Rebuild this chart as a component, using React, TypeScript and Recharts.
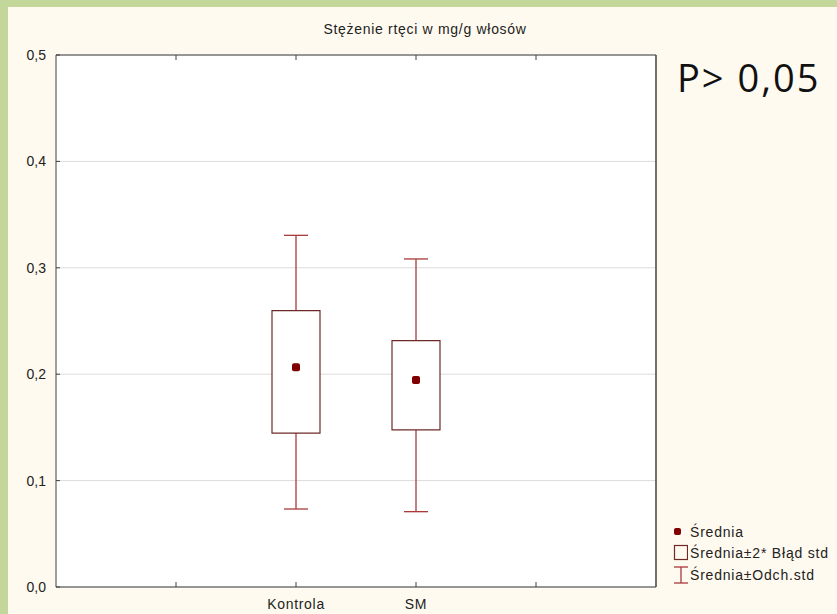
import { ComposedChart, Bar, Scatter, ErrorBar, XAxis, YAxis, CartesianGrid } from 'recharts';

// group positions on a 0..5 numeric axis, ticks at every slot boundary
const groups = ['Kontrola', 'SM'];
const groupPos = [2, 3];
const means = [0.2065, 0.1945];
const boxLow = [0.1447, 0.1476];
const boxHigh = [0.2597, 0.2315];
const sdLow = [0.0733, 0.0708];
const sdHigh = [0.3305, 0.3083];
const yTicks = [0, 0.1, 0.2, 0.3, 0.4, 0.5];
const xTicks = [1, 2, 3, 4];

const data = groups.map((name, i) => ({
  name,
  pos: groupPos[i],
  mean: means[i],
  box: [boxLow[i], boxHigh[i]],
  sd: [means[i] - sdLow[i], sdHigh[i] - means[i]],
}));

const FRAME = '#404040';
const BOX = '#6e2a2a';
const WHISKER = '#a83a3a';
const MEAN = '#800000';
const FONT = '"Liberation Sans", Arial, sans-serif';

const fmt = (v: number) => v.toFixed(1).replace('.', ',');

function YTick(props: any) {
  const { x, y, payload } = props;
  return (
    <g>
      <line x1={x + 10} x2={x + 14} y1={y} y2={y} stroke={FRAME} />
      <text x={x} y={y} dy={5} textAnchor="end" fontSize={14} fontFamily={FONT} fill="#222">
        {fmt(payload.value)}
      </text>
    </g>
  );
}

function XTick(props: any) {
  const { x, y, payload } = props;
  const idx = groupPos.indexOf(payload.value);
  return (
    <g>
      <line x1={x} x2={x} y1={y - 10} y2={y - 15} stroke={FRAME} />
      {idx >= 0 && (
        <text x={x} y={y} dy={12} textAnchor="middle" fontSize={14} fontFamily={FONT} fill="#222" letterSpacing={0.7}>
          {groups[idx]}
        </text>
      )}
    </g>
  );
}

function TopTick(props: any) {
  const { x, y } = props;
  return <line x1={x} x2={x} y1={y} y2={y + 5} stroke={FRAME} />;
}

const MeanDot = (props: any) => (
  <rect x={props.cx - 4} y={props.cy - 4} width={8} height={8} rx={2} fill={MEAN} />
);

function LegendRow({ icon, label }: { icon: React.ReactNode; label: string }) {
  return (
    <div style={{ display: 'flex', alignItems: 'center', height: 21.5 }}>
      <svg width={16} height={18} style={{ marginRight: 2 }}>
        {icon}
      </svg>
      <span>{label}</span>
    </div>
  );
}

export default function App() {
  return (
    <div
      style={{
        position: 'absolute',
        left: 0,
        top: 0,
        width: 837,
        height: 614,
        background: '#fffaef',
        overflow: 'hidden',
        fontFamily: FONT,
      }}
    >
      <ComposedChart
        width={837}
        height={614}
        data={data}
        margin={{ top: 35, right: 180, bottom: 0, left: 8 }}
      >
        <CartesianGrid horizontal vertical={false} stroke="#dcdcdc" fill="#ffffff" />
        <XAxis
          dataKey="pos"
          type="number"
          domain={[0, 5]}
          ticks={xTicks}
          height={27}
          tickLine={false}
          tickSize={0}
          tickMargin={10}
          tick={<XTick />}
          axisLine={{ stroke: FRAME }}
        />
        <XAxis
          xAxisId="top"
          dataKey="pos"
          type="number"
          orientation="top"
          domain={[0, 5]}
          ticks={xTicks}
          height={20}
          tickLine={false}
          tickSize={0}
          tickMargin={0}
          tick={<TopTick />}
          axisLine={{ stroke: FRAME }}
        />
        <YAxis
          type="number"
          domain={[0, 0.5]}
          ticks={yTicks}
          width={48}
          tickLine={false}
          tickSize={0}
          tickMargin={10}
          tick={<YTick />}
          axisLine={{ stroke: FRAME }}
        />
        <YAxis
          yAxisId="right"
          orientation="right"
          type="number"
          domain={[0, 0.5]}
          width={1}
          tick={false}
          tickLine={false}
          axisLine={{ stroke: FRAME, strokeWidth: 1.5 }}
        />
        {/* whiskers first, then the white box hides the part inside, then the mean */}
        <Scatter dataKey="mean" shape={() => <g />} isAnimationActive={false} zIndex={310}>
          <ErrorBar dataKey="sd" direction="y" width={12} stroke={WHISKER} strokeWidth={1.3} isAnimationActive={false} zIndex={310} />
        </Scatter>
        <Bar dataKey="box" barSize={48} fill="#ffffff" stroke={BOX} strokeWidth={1.2} isAnimationActive={false} zIndex={650} />
        <Scatter dataKey="mean" shape={MeanDot} isAnimationActive={false} zIndex={700} />
      </ComposedChart>

      <div style={{ position: 'absolute', left: 0, top: 0, width: 8, height: 614, background: '#c4d79b' }} />
      <div style={{ position: 'absolute', left: 0, top: 0, width: 837, height: 7, background: '#c4d79b' }} />

      <div
        style={{
          position: 'absolute',
          left: 425,
          top: 21,
          transform: 'translateX(-50%)',
          fontSize: 14,
          letterSpacing: 0.7,
          color: '#222',
          whiteSpace: 'nowrap',
        }}
      >
        Stężenie rtęci w mg/g włosów
      </div>

      <div
        style={{
          position: 'absolute',
          left: 677,
          top: 51,
          fontFamily: '"Open Sans", "Noto Sans", sans-serif',
          fontSize: 38,
          letterSpacing: 2,
          color: '#111',
          whiteSpace: 'nowrap',
        }}
      >
        P&gt; 0,05
      </div>

      <div
        style={{
          position: 'absolute',
          left: 672,
          top: 521,
          fontSize: 14,
          letterSpacing: 0.8,
          color: '#222',
          whiteSpace: 'nowrap',
        }}
      >
        <LegendRow icon={<rect x={2} y={5} width={7} height={7} rx={2} fill={MEAN} />} label="Średnia" />
        <LegendRow
          icon={<rect x={2.5} y={1.5} width={13} height={14} fill="none" stroke={BOX} strokeWidth={1.2} />}
          label="Średnia±2* Błąd std"
        />
        <LegendRow
          icon={
            <g stroke={WHISKER} strokeWidth={1.3}>
              <line x1={2} x2={16} y1={1} y2={1} />
              <line x1={9} x2={9} y1={1} y2={17} />
              <line x1={2} x2={16} y1={17} y2={17} />
            </g>
          }
          label="Średnia±Odch.std"
        />
      </div>
    </div>
  );
}
